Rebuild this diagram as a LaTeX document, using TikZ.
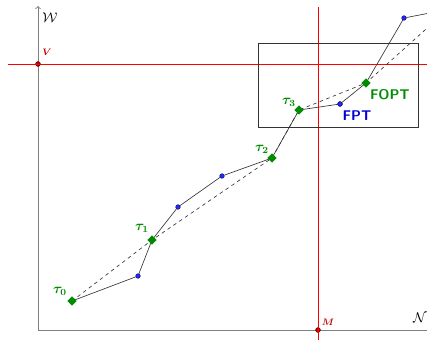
\documentclass[tikz,border=0pt]{standalone}
\usepackage{amsmath,amssymb}
\usetikzlibrary{shapes.geometric}
\definecolor{tgreen}{RGB}{0,140,0}
\tikzset{
  tau/.style={diamond,fill=tgreen,inner sep=0pt,minimum size=8pt},
  dot/.style={circle,fill=blue!85,draw=blue!30!black,line width=0.3pt,inner sep=0pt,minimum size=4pt},
  tlabel/.style={text=tgreen,font=\large},
  axis/.style={draw=gray,line width=0.8pt},
  redline/.style={draw=red,line width=0.7pt},
}
\begin{document}
\begin{tikzpicture}[x=0.3mm, y=-0.3mm]
  \useasboundingbox (0,0) rectangle (427,340);
  \clip (0,0) rectangle (427,340);
  % Axes
  \coordinate (O) at (38,330);
  \coordinate (Wend) at (38,6);
  \coordinate (Nend) at (440,330);
  \draw[axis,->] (O) -- (Wend);
  \draw[axis] (O) -- (Nend);
  \node[font=\large] (W) at (50,18) {$\mathcal{W}$};
  \node[font=\large] (N) at (420,318) {$\mathcal{N}$};

  % Red lines
  \node[circle,fill=red!80!black,draw=black,line width=0.3pt,inner sep=0pt,minimum size=4.2pt] (V) at (38,64) {};
  \node[circle,fill=red!80!black,draw=black,line width=0.3pt,inner sep=0pt,minimum size=4.2pt] (M) at (318,330) {};
  \coordinate (Vl) at (8,64);
  \coordinate (Vr) at (440,64);
  \coordinate (Mt) at (318,7);
  \coordinate (Mb) at (318,345);
  \draw[redline] (Vl) -- (Vr);
  \draw[redline] (Mt) -- (Mb);
  \node[text=red!80!black] (Vlab) at (47,52) {\footnotesize $\boldsymbol{V}$};
  \node[text=red!80!black] (Mlab) at (328,322) {\footnotesize $\boldsymbol{M}$};

  % Zoom box
  \draw[black!80,line width=0.5pt] (258,43) rectangle (418,127);

  % Nodes
  \node[dot] (p1) at (138,276) {};
  \node[dot] (p2) at (178,207) {};
  \node[dot] (p3) at (222,176) {};
  \node[dot] (fpt) at (340,104) {};
  \node[dot] (p4) at (404,18) {};
  \coordinate (s5) at (435,12);
  \coordinate (d5) at (435,21);

  % Edges
  \draw[black!80,line width=0.55pt] (72,301) -- (p1) -- (152,240) -- (p2) -- (p3) -- (272,158)
    -- (299,110) -- (fpt) -- (366,83) -- (p4) -- (s5);
  \draw[black!80,dashed,line width=0.55pt] (72,301) -- (152,240) -- (272,158) -- (299,110)
    -- (366,83) -- (d5);

  % Tau points
  \node[tau] (t0) at (72,301) {};
  \node[tau] (t1) at (152,240) {};
  \node[tau] (t2) at (272,158) {};
  \node[tau] (t3) at (299,110) {};
  \node[tau] (fopt) at (366,83) {};
  \node[dot] (fpt) at (340,104) {};
  \node[tlabel] (t0lab) at (60,291) {$\boldsymbol{\tau_0}$};
  \node[tlabel] (t1lab) at (142,228) {$\boldsymbol{\tau_1}$};
  \node[tlabel] (t2lab) at (262,149) {$\boldsymbol{\tau_2}$};
  \node[tlabel] (t3lab) at (289,102) {$\boldsymbol{\tau_3}$};
  \node[text=blue!85!black,font=\large\sffamily\bfseries] (fptlab) at (357,116) {FPT};
  \node[text=tgreen,font=\large\sffamily\bfseries] (foptlab) at (390,95) {FOPT};
\end{tikzpicture}
\end{document}
